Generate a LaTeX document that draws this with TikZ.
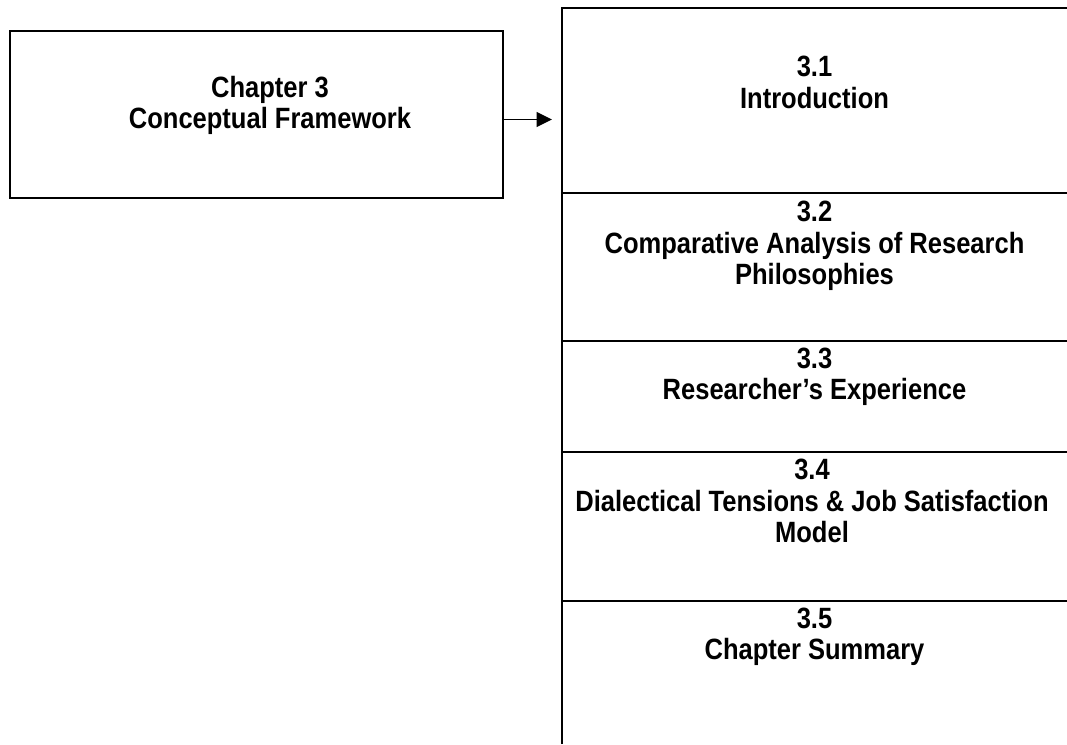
\documentclass[tikz,border=0pt]{standalone}
\usepackage{fontspec}
\setmainfont{Liberation Sans}[FakeStretch=0.87]
\usetikzlibrary{arrows.meta}

\begin{document}
\begin{tikzpicture}[x=0.75pt, y=-0.75pt,
  rule/.style={line width=1.6pt},
  celltext/.style={anchor=north, inner sep=0pt, align=center,
    font=\fontsize{22pt}{23.6pt}\selectfont\bfseries},
  linkarrow/.style={line width=1.2pt, -{Triangle[length=11.5pt, width=11pt]}}]

  % canvas
  \useasboundingbox (0,0) rectangle (1067,744);

  % chapter box on the left
  \node[rule, draw, rectangle, minimum width=369.75pt, minimum height=125.25pt,
        inner sep=0pt] (chapter) at (256.5,114.5) {};
  \node[celltext] (chaptertext) at (270,76) {Chapter 3\\Conceptual Framework};

  % section column (open on the right and at the bottom)
  \coordinate (colTL) at (562,8);
  \coordinate (colTR) at (1067,8);
  \coordinate (colBL) at (562,744);
  \draw[rule] (colBL) -- (colTL) -- (colTR);
  \foreach \yy/\nm in {193/d1, 341/d2, 452/d3, 601/d4}{
    \coordinate (\nm L) at (562,\yy);
    \coordinate (\nm R) at (1067,\yy);
    \draw[rule] (\nm L) -- (\nm R);
  }

  % section titles
  \node[celltext] (s1) at (814.5,56)  {3.1\\Introduction};
  \node[celltext] (s2) at (814.5,201) {3.2\\Comparative Analysis of Research\\Philosophies};
  \node[celltext] (s3) at (814.5,347.5) {3.3\\Researcher’s Experience};
  \node[celltext] (s4) at (812,459) {3.4\\Dialectical Tensions \& Job Satisfaction\\Model};
  \node[celltext] (s5) at (814.5,607.5) {3.5\\Chapter Summary};

  % link from the chapter box to the section column
  \coordinate (arrowtip) at (552,119.5);
  \draw[linkarrow] (chapter.east |- arrowtip) -- (arrowtip);
\end{tikzpicture}
\end{document}
